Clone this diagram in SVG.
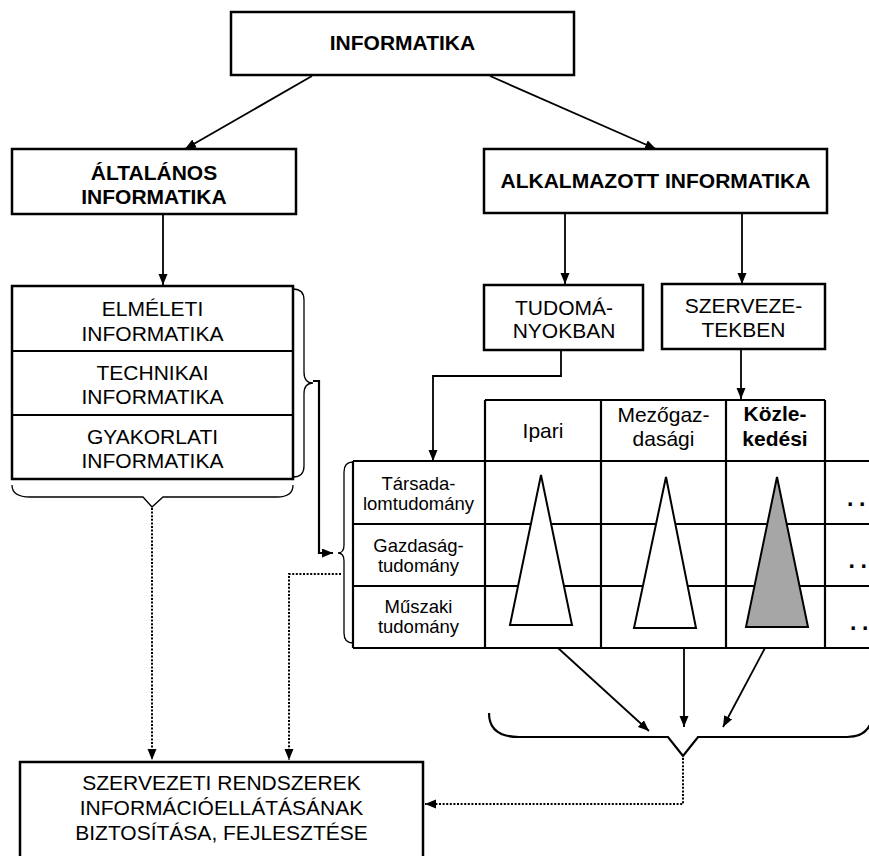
<svg xmlns="http://www.w3.org/2000/svg" width="869" height="856" viewBox="0 0 869 856">
  <style>
    .box { fill: #fff; stroke: #000; stroke-width: 2.5; }
    .grid { fill: none; stroke: #000; stroke-width: 2.2; }
    .t { font-family: "Liberation Sans", Arial, sans-serif; font-size: 21px; fill: #000; text-anchor: middle; }
    .b { font-weight: bold; }
    .s { font-size: 18.5px; }
    .more { font-family: "Liberation Sans", Arial, sans-serif; font-size: 23px; font-weight: bold; fill: #000; text-anchor: start; }
    .line { fill: none; stroke: #000; stroke-width: 1.8; }
    .dot { fill: none; stroke: #000; stroke-width: 2; stroke-dasharray: 2 1.6; }
    .brace { fill: none; stroke: #000; stroke-width: 1.3; }
    .brace2 { fill: none; stroke: #000; stroke-width: 2.2; }
    .tri { fill: #fff; stroke: #000; stroke-width: 2; }
    .tri.on { fill: #a6a6a6; }
  </style>
  <defs>
    <marker id="ah" markerUnits="userSpaceOnUse" markerWidth="12" markerHeight="10" refX="11" refY="4.5" orient="auto">
      <path d="M0,0 L11,4.5 L0,9 z" fill="#000" stroke="none"/>
    </marker>
  </defs>

  <rect width="869" height="856" fill="#fff"/>

  <!-- connectors -->
  <g id="connectors">
    <line class="line" x1="312" y1="76" x2="185" y2="149" marker-end="url(#ah)"/>
    <line class="line" x1="490" y1="76" x2="656" y2="149" marker-end="url(#ah)"/>
    <line class="line" x1="163" y1="214" x2="163" y2="285" marker-end="url(#ah)"/>
    <line class="line" x1="565" y1="213" x2="565" y2="284" marker-end="url(#ah)"/>
    <line class="line" x1="742" y1="213" x2="742" y2="284" marker-end="url(#ah)"/>
    <path class="line" d="M561,350 V376 H433 V461" marker-end="url(#ah)"/>
    <line class="line" x1="741" y1="349" x2="741" y2="399" marker-end="url(#ah)"/>
    <path class="brace2" d="M313,381 H319 V553 H333" marker-end="url(#ah)"/>
    <line class="line" x1="558" y1="648" x2="649" y2="731" marker-end="url(#ah)"/>
    <line class="line" x1="684" y1="648" x2="684" y2="727" marker-end="url(#ah)"/>
    <line class="line" x1="765" y1="648" x2="723" y2="727" marker-end="url(#ah)"/>
    <path class="dot" d="M152,508 V760" marker-end="url(#ah)"/>
    <path class="dot" d="M341,574 H289 V760" marker-end="url(#ah)"/>
    <path class="dot" d="M683,758 V804 H425" marker-end="url(#ah)"/>
  </g>

  <!-- braces -->
  <g id="braces">
    <path class="brace" d="M293,289 Q304,289 304,300 V372 Q304,383 313,383 Q304,383 304,394 V466 Q304,477 293,477"/>
    <path class="brace" d="M12,485 Q12,497 30,497 H143 L152,507 L163,497 H277 Q293,497 293,485"/>
    <path class="brace" d="M353,462 Q344,462 344,472 V545 Q344,553 338,553 Q344,553 344,561 V633 Q344,643 353,643"/>
    <path class="brace2" d="M489,713 Q489,737 519,737 H668 L683,756 L698,737 H847 Q871,737 873,713"/>
  </g>

  <g id="informatika">
    <rect class="box" x="231" y="12" width="343" height="63"/>
    <text class="t b" x="402.5" y="50">INFORMATIKA</text>
  </g>

  <g id="altalanos">
    <rect class="box" x="12" y="149" width="284" height="65"/>
    <text class="t b" x="154" y="180">ÁLTALÁNOS</text>
    <text class="t b" x="154" y="204">INFORMATIKA</text>
  </g>

  <g id="alkalmazott">
    <rect class="box" x="484" y="149" width="343" height="64"/>
    <text class="t b" x="655.5" y="188">ALKALMAZOTT INFORMATIKA</text>
  </g>

  <g id="aggaszok">
    <rect class="box" x="12" y="286" width="281" height="193"/>
    <line class="grid" x1="12" y1="351" x2="293" y2="351"/>
    <line class="grid" x1="12" y1="415" x2="293" y2="415"/>
    <text class="t" x="152.5" y="316">ELMÉLETI</text>
    <text class="t" x="152.5" y="341">INFORMATIKA</text>
    <text class="t" x="152.5" y="380">TECHNIKAI</text>
    <text class="t" x="152.5" y="404">INFORMATIKA</text>
    <text class="t" x="152.5" y="444">GYAKORLATI</text>
    <text class="t" x="152.5" y="468">INFORMATIKA</text>
  </g>

  <g id="tudomanyokban">
    <rect class="box" x="484" y="285" width="159" height="65"/>
    <text class="t" x="564" y="315">TUDOMÁ-</text>
    <text class="t" x="564" y="338">NYOKBAN</text>
  </g>

  <g id="szervezetekben">
    <rect class="box" x="662" y="284" width="163" height="65"/>
    <text class="t" x="743.5" y="313">SZERVEZE-</text>
    <text class="t" x="743.5" y="337">TEKBEN</text>
  </g>

  <g id="matrix">
    <path class="grid" d="M485,400 H825 M485,400 V648 M601,400 V648 M726,400 V648 M825,400 V648 M353,461 V648 M353,461 H869 M353,524 H869 M353,586 H869 M353,648 H869"/>
    <text class="t" x="543" y="438">Ipari</text>
    <text class="t" x="663.5" y="422">Mezőgaz-</text>
    <text class="t" x="663.5" y="446">dasági</text>
    <text class="t b" x="775" y="421">Közle-</text>
    <text class="t b" x="775" y="446">kedési</text>
    <text class="t s" x="418.5" y="490">Társada-</text>
    <text class="t s" x="418.5" y="510">lomtudomány</text>
    <text class="t s" x="418.5" y="552">Gazdaság-</text>
    <text class="t s" x="418.5" y="572">tudomány</text>
    <text class="t s" x="418.5" y="613">Műszaki</text>
    <text class="t s" x="418.5" y="633">tudomány</text>
    <polygon class="tri" points="541,475 510,625 572,625"/>
    <polygon class="tri" points="666,477 634,628 696,628"/>
    <polygon class="tri on" points="777,477 746,627 808,627"/>
    <text class="more" x="847 859" y="506">..</text>
    <text class="more" x="848.5 860.5" y="568">..</text>
    <text class="more" x="850 862" y="630">..</text>
  </g>

  <g id="celok">
    <rect class="box" x="20" y="762" width="403" height="110"/>
    <text class="t" x="221.5" y="790">SZERVEZETI RENDSZEREK</text>
    <text class="t" x="221.5" y="815">INFORMÁCIÓELLÁTÁSÁNAK</text>
    <text class="t" x="221.5" y="840">BIZTOSÍTÁSA, FEJLESZTÉSE</text>
  </g>
</svg>
